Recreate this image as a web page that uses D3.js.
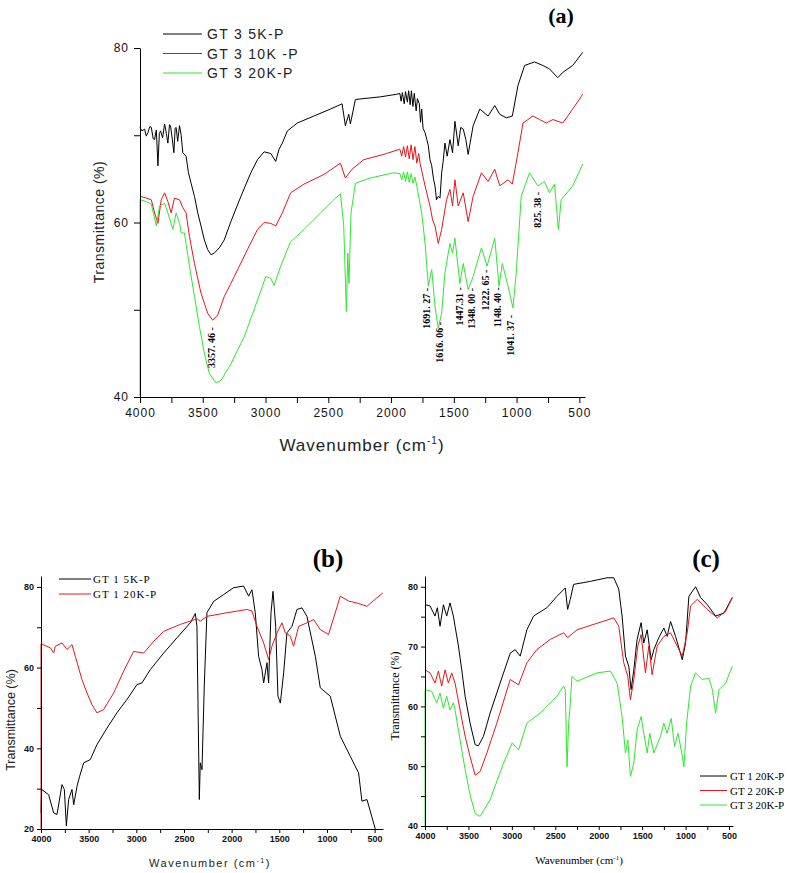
<!DOCTYPE html>
<html>
<head>
<meta charset="utf-8">
<script src="https://cdn.jsdelivr.net/npm/d3@7"></script>
<style>
body { margin: 0; background: #fff; }
svg { display: block; }
</style>
</head>
<body>
<svg width="787" height="873"></svg>
<script>
// spectra: [wavenumber (cm-1), transmittance (%)]

// panel (a)
var gt3_5k = [[4000,70.9],[3985,70.5],[3963,70.7],[3950,69.9],[3937,70.3],[3922,71.0],[3910,70.9],[3895,69.6],[3884,69.5],[3870,70.6],[3857,66.5],[3846,70.2],[3836,70.5],[3820,69.7],[3804,71.3],[3790,70.2],[3778,69.1],[3765,71.2],[3757,71.1],[3745,69.8],[3730,68.0],[3720,70.8],[3712,70.9],[3700,69.3],[3685,71.1],[3672,70.0],[3659,68.0],[3633,67.6],[3614,65.7],[3593,64.5],[3566,63.0],[3540,61.1],[3514,59.6],[3487,58.0],[3461,56.9],[3434,56.3],[3408,56.5],[3368,57.1],[3329,58.0],[3276,60.1],[3196,63.0],[3117,65.7],[3064,67.2],[3011,68.1],[2958,67.9],[2919,67.0],[2892,68.4],[2866,69.1],[2826,70.5],[2747,71.4],[2615,72.2],[2483,73.0],[2390,73.6],[2364,71.1],[2337,72.4],[2324,71.3],[2284,74.1],[2086,74.4],[1954,74.7],[1930,74.8],[1920,73.9],[1910,74.9],[1895,73.6],[1885,75.0],[1870,73.8],[1860,75.1],[1848,73.5],[1838,75.1],[1826,73.3],[1815,74.8],[1800,72.8],[1790,74.2],[1775,73.6],[1765,71.5],[1756,73.0],[1745,70.8],[1729,70.3],[1715,69.5],[1703,68.8],[1690,67.2],[1676,66.5],[1662,65.0],[1650,64.2],[1638,62.6],[1624,63.0],[1610,62.8],[1597,65.7],[1585,67.0],[1571,69.1],[1553,67.6],[1531,69.5],[1510,68.0],[1491,71.6],[1465,68.8],[1445,70.9],[1425,70.7],[1404,69.5],[1386,67.8],[1346,71.1],[1293,73.0],[1227,72.2],[1174,73.4],[1134,72.4],[1082,72.0],[1034,72.2],[989,75.7],[936,78.0],[857,78.4],[791,78.0],[738,77.6],[672,76.6],[632,77.2],[553,78.0],[473,79.5]];
var gt3_10k = [[4000,63.0],[3950,62.8],[3910,62.6],[3884,61.1],[3857,59.9],[3831,62.6],[3804,63.4],[3778,62.4],[3752,61.1],[3725,62.8],[3685,62.6],[3659,61.7],[3633,61.1],[3606,58.4],[3566,55.3],[3514,51.9],[3461,49.6],[3421,48.8],[3381,49.4],[3329,51.5],[3249,53.8],[3144,56.9],[3064,59.2],[3011,60.0],[2958,59.9],[2919,59.6],[2866,61.1],[2800,63.4],[2694,64.4],[2535,65.5],[2403,66.8],[2364,65.1],[2311,66.1],[2218,67.2],[2060,67.8],[1930,68.4],[1915,67.6],[1900,68.7],[1885,67.5],[1870,68.8],[1855,67.3],[1840,68.9],[1825,67.2],[1810,68.7],[1795,66.8],[1780,67.9],[1769,66.8],[1729,64.2],[1690,61.9],[1669,60.3],[1650,59.6],[1624,57.6],[1597,59.2],[1558,62.6],[1531,63.8],[1510,61.9],[1491,64.9],[1465,61.9],[1425,63.4],[1386,60.1],[1346,63.0],[1280,65.7],[1227,64.7],[1174,66.1],[1134,64.2],[1068,64.9],[1034,64.4],[989,68.0],[949,71.4],[870,72.2],[817,71.8],[764,71.4],[711,71.8],[632,71.4],[553,73.0],[473,74.7]];
var gt3_20k = [[4000,40.0],[4000,62.6],[3950,62.4],[3910,62.1],[3870,59.6],[3844,61.9],[3804,62.2],[3778,61.1],[3738,59.2],[3712,61.1],[3685,59.9],[3672,58.8],[3646,58.8],[3606,55.0],[3566,51.5],[3527,48.1],[3487,45.0],[3448,42.7],[3395,41.6],[3355,41.9],[3276,43.8],[3170,46.9],[3064,51.1],[2998,53.8],[2958,53.6],[2932,52.8],[2879,55.0],[2800,57.8],[2694,59.2],[2562,61.1],[2456,62.6],[2403,63.3],[2377,59.6],[2356,49.8],[2345,56.5],[2335,53.0],[2319,61.1],[2284,64.5],[2165,65.1],[1980,65.7],[1930,65.6],[1915,64.9],[1900,65.8],[1885,64.7],[1870,65.8],[1855,64.6],[1840,65.6],[1825,64.5],[1810,65.2],[1795,64.2],[1756,61.1],[1729,57.6],[1703,52.7],[1676,54.6],[1650,50.4],[1624,47.9],[1597,49.6],[1571,54.2],[1531,57.6],[1510,56.5],[1491,58.2],[1452,53.0],[1425,55.3],[1386,52.3],[1346,53.8],[1280,57.1],[1235,55.0],[1174,58.2],[1140,52.7],[1114,55.3],[1068,52.7],[1029,50.2],[1003,54.2],[963,63.0],[897,65.7],[831,64.2],[778,64.7],[738,63.4],[698,64.4],[667,59.2],[645,62.6],[553,64.2],[473,66.7]];

// panel (b)
var gt1_5k = [[4000,24.0],[3993,29.8],[3920,28.5],[3867,24.0],[3832,23.6],[3780,31.0],[3755,29.8],[3734,20.8],[3710,27.3],[3675,29.8],[3657,26.0],[3622,30.6],[3594,33.1],[3552,36.4],[3483,37.2],[3413,40.9],[3308,45.0],[3203,48.8],[3098,52.1],[2993,55.8],[2941,56.2],[2853,59.5],[2713,63.6],[2573,67.4],[2434,71.1],[2381,73.4],[2364,70.2],[2353,51.2],[2339,27.3],[2329,36.4],[2311,34.7],[2287,55.4],[2259,73.6],[2189,76.4],[2084,78.1],[1979,79.8],[1874,80.2],[1822,77.7],[1787,79.3],[1752,73.6],[1717,62.8],[1682,59.5],[1664,56.2],[1629,61.2],[1612,56.2],[1587,73.6],[1566,78.9],[1538,70.2],[1514,52.9],[1489,51.2],[1454,58.7],[1420,68.6],[1367,70.2],[1315,74.4],[1262,74.8],[1210,72.7],[1122,62.8],[1070,55.0],[965,52.9],[860,43.0],[755,38.0],[668,33.9],[633,26.9],[580,27.3],[493,20.0]];
var gt1_20k_b = [[4000,20.0],[4000,65.9],[3902,64.9],[3867,63.6],[3850,65.3],[3780,66.1],[3727,64.5],[3675,65.7],[3640,62.8],[3605,59.9],[3570,57.0],[3517,53.7],[3465,50.8],[3413,48.8],[3343,49.6],[3238,53.7],[3133,59.1],[3028,64.0],[2923,63.6],[2818,66.5],[2713,69.0],[2538,70.7],[2364,72.1],[2329,71.5],[2259,72.7],[2049,73.6],[1839,74.4],[1787,74.0],[1734,70.2],[1664,66.1],[1612,62.0],[1577,65.3],[1524,68.6],[1472,71.1],[1437,68.6],[1385,67.8],[1350,65.3],[1297,70.2],[1210,71.1],[1140,71.9],[1070,69.4],[983,68.2],[930,72.3],[860,77.7],[773,76.5],[685,76.0],[580,75.2],[476,77.3],[413,78.5]];

// panel (c)
var gt1_20k = [[4000,77.0],[3942,76.8],[3885,75.1],[3858,76.5],[3827,73.4],[3788,77.0],[3750,75.1],[3712,77.3],[3673,75.1],[3654,73.4],[3615,70.1],[3577,66.1],[3538,61.7],[3481,57.2],[3423,53.6],[3385,53.4],[3327,55.0],[3250,58.9],[3135,63.9],[3019,68.9],[2962,69.5],[2904,68.4],[2827,72.8],[2750,75.1],[2596,76.5],[2481,78.4],[2385,79.8],[2358,76.2],[2327,77.9],[2289,80.4],[2096,80.9],[1904,81.5],[1827,81.5],[1769,79.6],[1731,75.1],[1692,68.4],[1654,66.7],[1627,62.8],[1596,66.1],[1558,71.2],[1512,74.0],[1481,70.6],[1442,72.8],[1396,67.8],[1365,69.5],[1308,71.5],[1250,73.1],[1212,71.7],[1173,74.2],[1115,71.7],[1038,67.8],[1000,70.6],[962,78.4],[885,80.0],[827,78.2],[750,77.0],[654,75.1],[558,75.6],[462,78.2]];
var gt2_20k = [[4000,66.1],[3942,65.6],[3885,63.9],[3846,65.9],[3808,63.4],[3769,66.1],[3731,63.9],[3692,65.6],[3654,63.9],[3596,59.4],[3538,55.0],[3481,51.6],[3423,48.5],[3365,49.1],[3288,52.2],[3173,57.2],[3019,64.5],[2923,63.6],[2827,67.3],[2712,69.5],[2558,71.2],[2404,72.3],[2358,71.5],[2250,72.8],[2019,73.9],[1827,74.8],[1769,73.4],[1712,67.3],[1665,65.0],[1635,61.1],[1596,64.5],[1550,70.1],[1512,72.0],[1462,65.6],[1423,70.1],[1385,65.3],[1327,70.1],[1250,71.7],[1173,72.3],[1115,70.6],[1038,68.4],[981,72.3],[942,76.8],[865,77.9],[750,76.2],[635,74.8],[538,75.9],[462,78.2]];
var gt3_20k_c = [[4000,40.0],[4000,62.8],[3923,62.5],[3865,60.6],[3827,62.2],[3788,59.7],[3750,61.7],[3712,59.4],[3673,60.6],[3654,59.4],[3596,54.4],[3538,49.4],[3481,45.2],[3423,42.1],[3365,41.6],[3250,44.4],[3096,50.5],[2996,53.9],[2923,52.7],[2827,57.2],[2673,58.9],[2481,61.7],[2404,63.4],[2385,62.8],[2365,49.9],[2346,57.2],[2327,60.6],[2308,65.0],[2250,64.2],[2019,65.6],[1865,65.9],[1788,63.9],[1731,58.3],[1692,52.2],[1665,54.4],[1635,48.3],[1596,50.5],[1558,56.1],[1512,58.3],[1481,55.5],[1442,52.2],[1412,55.5],[1365,52.2],[1288,55.0],[1250,57.2],[1212,55.5],[1165,58.0],[1127,53.3],[1088,55.5],[1050,52.7],[1019,49.9],[988,57.2],[942,63.4],[885,65.6],[808,64.5],[731,64.7],[692,62.8],[654,58.9],[615,62.8],[538,63.9],[462,66.7]];

// peak labels on panel (a): text, wavenumber, transmittance at top of text
var peakText = ["3357. 46", "1691. 27", "1616. 06", "1447.31", "1348. 00", "1222. 65", "1148. 40", "1041. 37", "825. 38"];
var peakWave = [3430, 1711, 1613, 1449, 1353, 1240, 1152, 1041, 826];
var peakTop = [48.0, 52.5, 48.6, 52.6, 52.5, 54.6, 52.6, 49.4, 63.5];

var legendA = ["GT 3 5K-P", "GT 3 10K -P", "GT 3 20K-P"];
var legendB = ["GT 1 5K-P", "GT 1 20K-P"];
var legendC = ["GT 1 20K-P", "GT 2 20K-P", "GT 3 20K-P"];

var xTicks = d3.range(4000, 499, -250);
var yTicksA = [40, 50, 60, 70, 80], yLabelsA = [40, 60, 80];
var yTicksB = [20, 30, 40, 50, 60, 70, 80], yLabelsB = [20, 40, 60, 80];
var yTicksC = [40, 45, 50, 55, 60, 65, 70, 75, 80], yLabelsC = [40, 50, 60, 70, 80];

var BLACK = "#000", RED = "#e3161c", GREEN = "#2de82d";
var svg = d3.select("svg");
svg.append("rect").attr("width", 787).attr("height", 873).attr("fill", "#fff");

function panel(o) {
  var x = d3.scaleLinear().domain(o.xd).range(o.xr);
  var y = d3.scaleLinear().domain(o.yd).range(o.yr);
  var g = svg.append("g");

  var line = d3.line()
      .x(function(d) { return x(d[0]); })
      .y(function(d) { return y(d[1]); });

  o.series.forEach(function(s) {
    g.append("path")
        .attr("d", line(s.data))
        .attr("fill", "none")
        .attr("stroke", s.color)
        .attr("stroke-width", 1)
        .attr("stroke-linejoin", "round");
  });

  var ax = g.append("g")
      .attr("transform", "translate(0," + o.yr[0] + ")")
      .call(d3.axisBottom(x).tickValues(xTicks).tickSize(o.tick).tickSizeOuter(0).tickPadding(o.pad)
        .tickFormat(function(d) { return d % 500 == 0 ? d : ""; }));
  var ay = g.append("g")
      .attr("transform", "translate(" + o.xr[0] + ",0)")
      .call(d3.axisLeft(y).tickValues(o.yt).tickSize(o.tick).tickSizeOuter(0).tickPadding(o.pad)
        .tickFormat(function(d) { return o.yl.indexOf(d) >= 0 ? d : ""; }));

  [ax, ay].forEach(function(a) {
    a.selectAll("path, line").attr("stroke", "#000");
    a.selectAll("text")
        .attr("fill", "#111")
        .style("font-family", o.font)
        .style("font-size", o.fs + "px")
        .style("font-weight", o.fw)
        .style("letter-spacing", o.ls + "px");
  });
  return {x: x, y: y};
}

// ---- (a)
var A = panel({
  xd: [4000, 455], xr: [140, 585], yd: [40, 80], yr: [397, 48],
  yt: yTicksA, yl: yLabelsA, tick: 6, pad: 5,
  font: "Liberation Sans, Arial, sans-serif", fs: 12, fw: "normal", ls: 1,
  series: [{data: gt3_5k, color: BLACK}, {data: gt3_10k, color: RED}, {data: gt3_20k, color: GREEN}]
});

svg.append("g").selectAll("text")
    .data(peakText)
  .enter().append("text")
    .attr("transform", function(d, i) { return "translate(" + (A.x(peakWave[i]) + 3) + "," + A.y(peakTop[i]) + ") rotate(-90)"; })
    .attr("text-anchor", "end")
    .style("font-family", "Liberation Serif, Times New Roman, serif")
    .style("font-size", "10px")
    .style("font-weight", "bold")
    .text(function(d) { return d + " -"; });

svg.append("text")
    .attr("transform", "translate(104,222) rotate(-90)")
    .attr("text-anchor", "middle")
    .style("font-family", "Liberation Sans, Arial, sans-serif")
    .style("font-size", "14px")
    .style("letter-spacing", "0.5px")
    .attr("fill", "#222")
    .text("Transmittance (%)");

var xla = svg.append("text")
    .attr("x", 362).attr("y", 451)
    .attr("text-anchor", "middle")
    .style("font-family", "Liberation Sans, Arial, sans-serif")
    .style("font-size", "17px")
    .style("letter-spacing", "1px")
    .attr("fill", "#222");
xla.append("tspan").text("Wavenumber (cm");
xla.append("tspan").attr("dy", -7).style("font-size", "10px").text("-1");
xla.append("tspan").attr("dy", 7).text(")");

svg.append("text")
    .attr("x", 561).attr("y", 23)
    .attr("text-anchor", "middle")
    .style("font-family", "Liberation Serif, Times New Roman, serif")
    .style("font-size", "22px")
    .style("font-weight", "bold")
    .text("(a)");

var legA = svg.append("g").selectAll("g")
    .data(legendA)
  .enter().append("g")
    .attr("transform", function(d, i) { return "translate(0," + (34 + i * 19.5) + ")"; });
legA.append("line")
    .attr("x1", 163).attr("x2", 202)
    .attr("stroke", function(d, i) { return [BLACK, RED, GREEN][i]; })
    .attr("stroke-width", 1.2);
legA.append("text")
    .attr("x", 207).attr("y", 5)
    .style("font-family", "Liberation Sans, Arial, sans-serif")
    .style("font-size", "14px")
    .style("letter-spacing", "1.3px")
    .attr("fill", "#222")
    .text(function(d) { return d; });

// ---- (b)
var B = panel({
  xd: [4000, 412], xr: [41, 383], yd: [20, 82.7], yr: [829, 576],
  yt: yTicksB, yl: yLabelsB, tick: 4, pad: 3,
  font: "Liberation Sans, Arial, sans-serif", fs: 9, fw: "bold", ls: 0,
  series: [{data: gt1_5k, color: BLACK}, {data: gt1_20k_b, color: RED}]
});

svg.append("text")
    .attr("transform", "translate(15,720) rotate(-90)")
    .attr("text-anchor", "middle")
    .style("font-family", "Liberation Sans, Arial, sans-serif")
    .style("font-size", "12.5px")
    .attr("fill", "#222")
    .text("Transmittance (%)");

var xlb = svg.append("text")
    .attr("x", 210).attr("y", 867)
    .attr("text-anchor", "middle")
    .style("font-family", "Liberation Sans, Arial, sans-serif")
    .style("font-size", "11px")
    .style("letter-spacing", "1.5px")
    .attr("fill", "#222");
xlb.append("tspan").text("Wavenumber (cm");
xlb.append("tspan").attr("dy", -4).style("font-size", "7px").text("-1");
xlb.append("tspan").attr("dy", 4).text(")");

svg.append("text")
    .attr("x", 328).attr("y", 567)
    .attr("text-anchor", "middle")
    .style("font-family", "Liberation Serif, Times New Roman, serif")
    .style("font-size", "25px")
    .style("font-weight", "bold")
    .text("(b)");

var legB = svg.append("g").selectAll("g")
    .data(legendB)
  .enter().append("g")
    .attr("transform", function(d, i) { return "translate(0," + (579 + i * 15) + ")"; });
legB.append("line")
    .attr("x1", 59).attr("x2", 91)
    .attr("stroke", function(d, i) { return [BLACK, RED][i]; });
legB.append("text")
    .attr("x", 93).attr("y", 4)
    .style("font-family", "Liberation Serif, Times New Roman, serif")
    .style("font-size", "11px")
    .style("letter-spacing", "1px")
    .text(function(d) { return d; });

// ---- (c)
var C = panel({
  xd: [4000, 454], xr: [425, 733], yd: [40, 81.8], yr: [826, 576],
  yt: yTicksC, yl: yLabelsC, tick: 4, pad: 3,
  font: "Liberation Sans, Arial, sans-serif", fs: 9, fw: "bold", ls: 0,
  series: [{data: gt1_20k, color: BLACK}, {data: gt2_20k, color: RED}, {data: gt3_20k_c, color: GREEN}]
});

svg.append("text")
    .attr("transform", "translate(399,696) rotate(-90)")
    .attr("text-anchor", "middle")
    .style("font-family", "Liberation Serif, Times New Roman, serif")
    .style("font-size", "12px")
    .text("Transmittance (%)");

var xlc = svg.append("text")
    .attr("x", 579).attr("y", 864)
    .attr("text-anchor", "middle")
    .style("font-family", "Liberation Serif, Times New Roman, serif")
    .style("font-size", "11px");
xlc.append("tspan").text("Wavenumber (cm");
xlc.append("tspan").attr("dy", -4).style("font-size", "7px").text("-1");
xlc.append("tspan").attr("dy", 4).text(")");

svg.append("text")
    .attr("x", 706).attr("y", 567)
    .attr("text-anchor", "middle")
    .style("font-family", "Liberation Serif, Times New Roman, serif")
    .style("font-size", "25px")
    .style("font-weight", "bold")
    .text("(c)");

var legC = svg.append("g").selectAll("g")
    .data(legendC)
  .enter().append("g")
    .attr("transform", function(d, i) { return "translate(0," + (776 + i * 14.5) + ")"; });
legC.append("line")
    .attr("x1", 700).attr("x2", 727)
    .attr("stroke", function(d, i) { return [BLACK, RED, GREEN][i]; });
legC.append("text")
    .attr("x", 730).attr("y", 4)
    .style("font-family", "Liberation Serif, Times New Roman, serif")
    .style("font-size", "11px")
    .text(function(d) { return d; });
</script>
</body>
</html>
